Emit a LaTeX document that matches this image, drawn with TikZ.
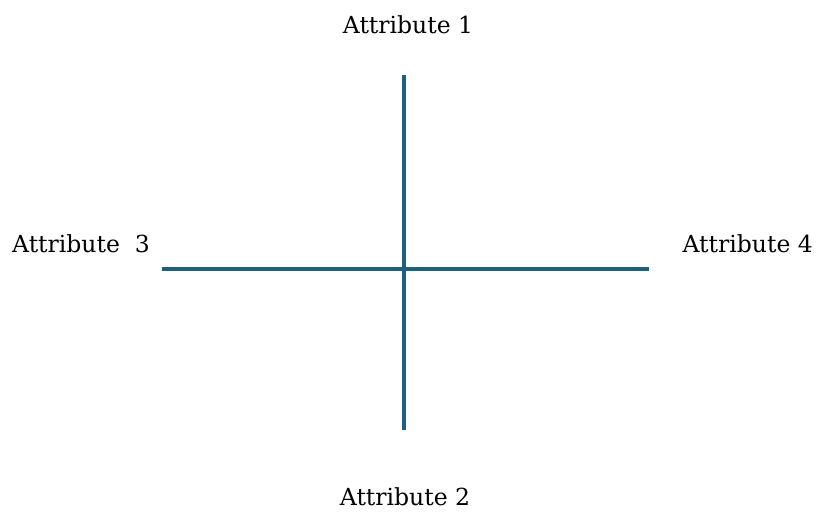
\documentclass[tikz,border=0pt]{standalone}
\usepackage{fontspec}
\setmainfont{DejaVu Serif}
\definecolor{axisblue}{RGB}{31,95,127}
\begin{document}
\begin{tikzpicture}[x=1pt,y=-1pt,
  axis/.style={draw=axisblue,line width=3.2pt},
  attr/.style={inner sep=0pt,font=\fontsize{23.5}{26}\selectfont,text=black}]
\useasboundingbox[fill=white] (0,0) rectangle (824,513);
\coordinate (top) at (404,75);
\coordinate (bot) at (404,430);
\coordinate (lft) at (162,269);
\coordinate (rgt) at (649,269);
\draw[axis] (top) -- (bot);
\draw[axis] (lft) -- (rgt);
\node[attr] (a1) at (408,25) {Attribute 1};
\node[attr] (a2) at (405,497) {Attribute 2};
\node[attr,anchor=west] (a3) at (12,244) {Attribute\ \ 3};
\node[attr,anchor=east] (a4) at (813,244) {Attribute 4};
\end{tikzpicture}
\end{document}
